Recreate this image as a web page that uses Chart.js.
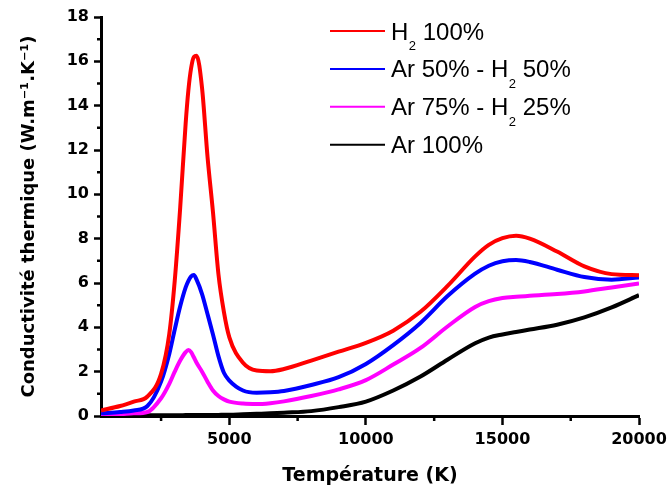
<!DOCTYPE html>
<html>
<head>
<meta charset="utf-8">
<script src="https://cdn.jsdelivr.net/npm/chart.js@4/dist/chart.umd.min.js"></script>
<style>
html,body{margin:0;padding:0;background:#fff;}
#wrap{width:667px;height:490px;position:relative;}
</style>
</head>
<body>
<div id="wrap"><canvas id="c" width="667" height="490"></canvas></div>
<script>
// ---- data ----
const temperatures = [300, 1000, 1500, 2000, 2500, 2800, 3000, 3200, 3400, 3500, 3600, 3700, 3800, 4000, 4200, 4400, 4600, 4800, 5000, 5500, 6000, 6500, 7000, 8000, 9000, 10000, 11000, 12000, 13000, 14000, 14500, 15000, 15500, 16000, 17000, 18000, 19000, 20000];
const h2_100     = [0.25, 0.45, 0.65, 0.88, 1.9, 3.7, 6.1, 9.4, 13.2, 14.7, 15.7, 16.2, 16.25, 14.8, 11.7, 9.2, 6.4, 4.7, 3.55, 2.4, 2.05, 2.02, 2.12, 2.5, 2.9, 3.3, 3.85, 4.7, 5.88, 7.2, 7.72, 8.02, 8.13, 8.0, 7.42, 6.75, 6.4, 6.35];
const ar50_h2_50 = [0.12, 0.18, 0.25, 0.45, 1.55, 2.8, 3.9, 4.95, 5.8, 6.1, 6.3, 6.36, 6.15, 5.5, 4.6, 3.68, 2.7, 1.95, 1.6, 1.15, 1.05, 1.07, 1.13, 1.4, 1.75, 2.35, 3.2, 4.2, 5.42, 6.42, 6.78, 6.98, 7.04, 6.95, 6.6, 6.27, 6.15, 6.25];
const ar75_h2_25 = [0.05, 0.08, 0.12, 0.18, 0.8, 1.45, 2.0, 2.5, 2.88, 2.98, 2.88, 2.65, 2.4, 2.0, 1.55, 1.15, 0.9, 0.75, 0.65, 0.56, 0.54, 0.58, 0.66, 0.9, 1.2, 1.62, 2.32, 3.07, 4.05, 4.92, 5.18, 5.32, 5.38, 5.42, 5.5, 5.62, 5.8, 5.98];
const ar100      = [0.02, 0.02, 0.02, 0.03, 0.03, 0.03, 0.03, 0.03, 0.04, 0.04, 0.04, 0.04, 0.04, 0.05, 0.05, 0.05, 0.05, 0.06, 0.06, 0.08, 0.1, 0.12, 0.15, 0.22, 0.4, 0.65, 1.15, 1.78, 2.55, 3.28, 3.54, 3.68, 3.79, 3.9, 4.12, 4.45, 4.9, 5.45];
const seriesLabels = ['H₂ 100%', 'Ar 50% - H₂ 50%', 'Ar 75% - H₂ 25%', 'Ar 100%'];
const seriesColors = ['#ff0000', '#0000ff', '#ff00ff', '#000000'];
const xMajorTicks = [5000, 10000, 15000, 20000];
const xMinorTicks = [2500, 7500, 12500, 17500];
const yMajorTicks = [0, 2, 4, 6, 8, 10, 12, 14, 16, 18];
const yMinorTicks = [1, 3, 5, 7, 9, 11, 13, 15, 17];
const xTitle = 'Température (K)';
const yTitle = 'Conductivité thermique (W.m⁻¹.K⁻¹)';

const seriesValues = [h2_100, ar50_h2_50, ar75_h2_25, ar100];

const minorTicksPlugin = {
  id: 'minorTicks',
  afterDraw(chart) {
    const ctx = chart.ctx;
    const xs = chart.scales.x, ys = chart.scales.y;
    const area = chart.chartArea;
    ctx.save();
    ctx.strokeStyle = '#000';
    ctx.lineWidth = 2.5;
    ctx.beginPath();
    xMinorTicks.forEach(v => {
      const px = xs.getPixelForValue(v);
      ctx.moveTo(px, area.bottom);
      ctx.lineTo(px, area.bottom + 5);
    });
    yMinorTicks.forEach(v => {
      const py = ys.getPixelForValue(v);
      ctx.moveTo(area.left - 4, py);
      ctx.lineTo(area.left, py);
    });
    ctx.stroke();
    ctx.restore();
  }
};

const insideLegendPlugin = {
  id: 'insideLegend',
  afterDraw(chart) {
    const ctx = chart.ctx;
    const area = chart.chartArea;
    const x0 = area.left + 229, x1 = x0 + 55, tx = x1 + 6;
    const y0 = area.top + 14, step = 37.9;
    chart.data.datasets.forEach((ds, i) => {
      const yy = y0 + i * step;
      ctx.save();
      ctx.strokeStyle = ds.borderColor;
      ctx.lineWidth = 2;
      ctx.beginPath();
      ctx.moveTo(x0, yy);
      ctx.lineTo(x1, yy);
      ctx.stroke();
      ctx.fillStyle = '#000';
      ctx.textBaseline = 'alphabetic';
      ctx.textAlign = 'left';
      const parts = ds.label.split('₂');
      let cx = tx;
      parts.forEach((p, j) => {
        ctx.font = '24px "Liberation Sans", Arial, sans-serif';
        ctx.fillText(p, cx, yy + 8.5);
        cx += ctx.measureText(p).width;
        if (j < parts.length - 1) {
          ctx.font = '13px "Liberation Sans", Arial, sans-serif';
          ctx.fillText('2', cx + 0.5, yy + 19);
          cx += ctx.measureText('2').width + 0.5;
        }
      });
      ctx.restore();
    });
  }
};

const tickFont = { family: '"DejaVu Sans", sans-serif', weight: 'bold', size: 16 };

new Chart(document.getElementById('c'), {
  type: 'line',
  data: {
    datasets: seriesValues.map((vals, i) => ({
      label: seriesLabels[i],
      data: temperatures.map((t, k) => ({ x: t, y: vals[k] })),
      borderColor: seriesColors[i],
      backgroundColor: seriesColors[i],
      borderWidth: 4,
      pointRadius: 0,
      fill: false,
      cubicInterpolationMode: 'monotone'
    }))
  },
  options: {
    responsive: false,
    animation: false,
    devicePixelRatio: 1,
    layout: { padding: { top: 17, right: 28, left: 0, bottom: 0 } },
    plugins: { legend: { display: false }, tooltip: { enabled: false } },
    scales: {
      x: {
        type: 'linear',
        min: 300,
        max: 20000,
        afterBuildTicks: s => { s.ticks = xMajorTicks.map(v => ({ value: v })); },
        afterFit: s => { s.height = 74; s.paddingRight = 0; s.paddingLeft = 0; },
        ticks: {
          font: tickFont, color: '#000', padding: 5, maxRotation: 0, autoSkip: false,
          callback: v => String(v)
        },
        grid: { drawOnChartArea: false, drawTicks: true, tickLength: 9, tickWidth: 2.5, tickColor: '#000' },
        border: { display: true, width: 3, color: '#000' },
        title: {
          display: true, text: xTitle, color: '#000',
          font: { family: '"DejaVu Sans", sans-serif', weight: 'bold', size: 19 },
          padding: { top: 0, bottom: 3 }
        }
      },
      y: {
        type: 'linear',
        min: 0,
        max: 18,
        afterBuildTicks: s => { s.ticks = yMajorTicks.map(v => ({ value: v })); },
        afterFit: s => { s.width = 101; s.paddingTop = 0; s.paddingBottom = 0; },
        ticks: { font: tickFont, color: '#000', padding: 5, autoSkip: false },
        grid: { drawOnChartArea: false, drawTicks: true, tickLength: 7, tickWidth: 2.5, tickColor: '#000' },
        border: { display: true, width: 3, color: '#000' },
        title: {
          display: true, text: yTitle, color: '#000',
          font: { family: '"DejaVu Sans", sans-serif', weight: 'bold', size: 18 },
          padding: { top: 19, bottom: 0 }
        }
      }
    }
  },
  plugins: [minorTicksPlugin, insideLegendPlugin]
});
</script>
</body>
</html>
